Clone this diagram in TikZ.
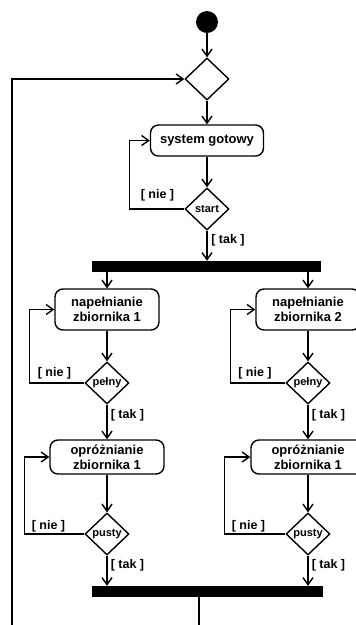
\documentclass[tikz,border=0pt]{standalone}
\usepackage{fontspec}
\setmainfont{Liberation Sans}
\usetikzlibrary{shapes.geometric,arrows.meta}
\tikzset{
  every picture/.style={x=1pt,y=-1pt},
  ln/.style={line width=1.4pt, line join=miter},
  arr/.style={ln, -{Straight Barb[length=7pt,width=10pt,line width=1.4pt]}},
  act/.style={draw, line width=1.4pt, rounded corners=8pt, inner sep=0pt, align=center,
     font=\fontsize{13}{15}\selectfont\bfseries},
  decision/.style={draw, diamond, line width=1.4pt, inner sep=0pt, minimum width=44pt, minimum height=42pt},
  dtext/.style={font=\fontsize{11}{12}\selectfont\bfseries, inner sep=0pt},
  guard/.style={font=\fontsize{12.5}{14}\selectfont\bfseries, inner sep=0pt},
  bar/.style={fill=black, inner sep=0pt, minimum height=11pt},
  start/.style={circle, fill=black, inner sep=0pt, minimum size=22pt}
}
\begin{document}
\begin{tikzpicture}
\useasboundingbox (0,0) rectangle (356,625);
% initial
\node[start] (init) at (207,22) {};
\node[decision] (d1) at (207,79) {};
\node[act, minimum width=113pt, minimum height=31pt] (sys) at (207,140.5) {system gotowy};
\node[decision] (dst) at (207,209) {};
\node[dtext] (tst) at (dst) {start};
\node[bar, minimum width=229pt] (fork) at (206.5,266.5) {};
% left branch
\node[act, minimum width=104pt, minimum height=41pt] (nap1) at (107,309.5) {napełnianie\\zbiornika 1};
\node[decision] (pel1) at (107,383) {};
\node[dtext] (tpel1) at (pel1) {pełny};
\node[act, minimum width=114pt, minimum height=34pt] (opr1) at (107,457) {opróżnianie\\zbiornika 1};
\node[decision] (pus1) at (107,534) {};
\node[dtext] (tpus1) at (pus1) {pusty};
% right branch
\node[act, minimum width=104pt, minimum height=41pt] (nap2) at (308,309.5) {napełnianie\\zbiornika 2};
\node[decision] (pel2) at (308,383) {};
\node[dtext] (tpel2) at (pel2) {pełny};
\node[act, minimum width=114pt, minimum height=34pt] (opr2) at (308,457) {opróżnianie\\zbiornika 1};
\node[decision] (pus2) at (308,534) {};
\node[dtext] (tpus2) at (pus2) {pusty};
% join
\node[bar, minimum width=231pt] (join) at (207.5,591.5) {};
\coordinate (jend) at (199,628);
\coordinate (lend) at (12,628);
% connectors
\draw[arr] (init) -- (d1.north);
\draw[arr] (d1.south) -- (sys.north);
\draw[arr] (sys.south) -- (dst.north);
\draw[arr] (dst.west) -- ++(-55,0) |- (sys.west);
\draw[arr] (dst.south) -- (dst.south |- fork.north);
\draw[arr] (nap1.north |- fork.south) -- (nap1.north);
\draw[arr] (nap2.north |- fork.south) -- (nap2.north);
\draw[arr] (nap1.south) -- (pel1.north);
\draw[arr] (pel1.west) -- ++(-55,0) |- (nap1.west);
\draw[arr] (pel1.south) -- (opr1.north);
\draw[arr] (opr1.south) -- (pus1.north);
\draw[arr] (pus1.west) -- ++(-60,0) |- (opr1.west);
\draw[arr] (pus1.south) -- (pus1.south |- join.north);
\draw[arr] (nap2.south) -- (pel2.north);
\draw[arr] (pel2.west) -- ++(-55,0) |- (nap2.west);
\draw[arr] (pel2.south) -- (opr2.north);
\draw[arr] (opr2.south) -- (pus2.north);
\draw[arr] (pus2.west) -- ++(-61,0) |- (opr2.west);
\draw[arr] (pus2.south) -- (pus2.south |- join.north);
\draw[arr] (join.south -| jend) -- (jend) -- (lend) |- (d1.west);
% guards
\node[guard] at (157.5,195) {[ nie ]};
\node[guard] at (228,240) {[ tak ]};
\node[guard] at (54.5,373) {[ nie ]};
\node[guard] at (127.5,415) {[ tak ]};
\node[guard] at (255,373) {[ nie ]};
\node[guard] at (328.5,415) {[ tak ]};
\node[guard] at (48.5,526) {[ nie ]};
\node[guard] at (127.5,565) {[ tak ]};
\node[guard] at (248.5,526) {[ nie ]};
\node[guard] at (328.5,565) {[ tak ]};
\end{tikzpicture}
\end{document}
